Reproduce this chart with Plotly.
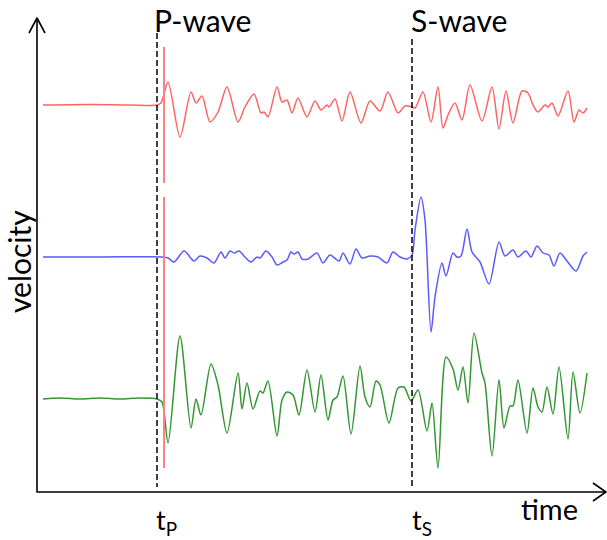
import plotly.graph_objects as go

# ---- data (time in arbitrary units from origin, velocity amplitude relative to trace baseline) ----
red_t = [6,53,93,120,124,131,143,154,159,165,173,181,190,201,208,217,224,227,231,240,245,250,255,261,270,
         278,284,290,292,298,305,313,324,333,343,351,361,368,375,378,386,394,401,406,411,418,425,433,445,455,
         462,469,476,485,491,496,501,508,511,515,521,531,537,542,546,550]
red_v = [0,0.5,0,0,2,23,-32,13,2,9,-17,-7,18,-17,-2,11,-8,-7,-12,18,3,5,-8,7,-12,
         4,-5,0,-2,6,-16,13,-18,4,-6,13,-8,-1,-2,-3,13,-17,18,-23,-10,2,-15,20,-16,18,
         -24,14,-18,14,12,0,-7,0,-2,2,-11,14,-17,-5,-8,-3]

blue_t = [6,63,127,131,137,147,157,163,170,177,184,188,193,197,202,208,214,220,223,229,235,240,246,250,254,
          257,261,265,271,280,286,293,302,306,313,319,325,333,341,350,356,363,370,375,378,384,388,394,398,405,
          409,416,420,424,430,435,443,452,462,468,476,481,489,494,500,506,512,517,523,530,539,546,550]
blue_v = [0,0,0,-1,-5,6,-4,1,-1,-6,5,-1,6,4,6,0,-5,0,-1,6,0,-8,-5,-3,5,
          3,5,-2,-2,4,-6,2,-4,4,-7,8,-1,1,0,-6,5,0,-2,2,27,60,37,-75,-40,-6,
          -19,4,0,1,28,5,-5,-27,15,1,7,0,6,0,11,4,2,-9,4,-4,-14,1,5]

green_t = [6,23,43,63,83,103,120,125,131,143,154,159,164,174,181,190,201,205,210,216,223,226,231,240,245,
           250,256,262,270,278,284,291,296,300,306,314,323,328,333,339,343,352,361,367,374,381,390,395,401,409,
           416,421,426,431,437,445,448,455,462,467,473,476,481,490,496,501,505,510,516,522,531,536,543,550]
green_v = [0,1,0,1,0,1,0,-3,-44,63,-29,0,-16,35,14,-34,26,-10,16,-10,8,6,18,-37,-1,
           7,4,-16,29,-13,24,-21,-1,2,23,-35,33,2,-8,18,14,-24,11,12,-2,9,-32,-4,-69,42,
           30,9,32,-4,66,26,16,-57,19,-29,-7,-7,19,-34,11,-8,-13,12,-15,32,-40,27,-14,26]

baselines = {"red": 387, "blue": 235, "green": 93}
t_P = 120
t_S = 375
t_red_marker = 127
time_max = 569
vel_max = 474

FONT = "Lato, 'Open Sans', sans-serif"

fig = go.Figure()

colors = {"red": "rgb(255,100,100)", "blue": "rgb(90,90,255)", "green": "rgb(50,150,50)"}
for name, tt, vv in [("red", red_t, red_v), ("blue", blue_t, blue_v), ("green", green_t, green_v)]:
    fig.add_trace(go.Scatter(
        x=tt, y=[baselines[name] + v for v in vv], mode="lines",
        line=dict(color=colors[name], width=1.5, shape="spline", smoothing=0.8),
        hoverinfo="skip"))

# red vertical marker (with small gap)
fig.add_trace(go.Scatter(x=[t_red_marker, t_red_marker, None, t_red_marker, t_red_marker],
                         y=[445, 309, None, 295, 24], mode="lines",
                         line=dict(color="rgb(255,130,130)", width=2), hoverinfo="skip"))

# dashed arrival lines
fig.add_trace(go.Scatter(x=[t_P, t_P], y=[459, 5], mode="lines",
                         line=dict(color="black", width=1.5, dash="6px,3px"), hoverinfo="skip"))
fig.add_trace(go.Scatter(x=[t_S, t_S], y=[453, 5], mode="lines",
                         line=dict(color="black", width=1.5, dash="6px,3px"), hoverinfo="skip"))

# axes with open arrowheads
fig.add_trace(go.Scatter(x=[time_max, 0, 0], y=[0, 0, vel_max], mode="lines",
                         line=dict(color="black", width=1.6), hoverinfo="skip"))
fig.add_trace(go.Scatter(x=[-8, 0, 8], y=[vel_max - 15, vel_max, vel_max - 15], mode="lines",
                         line=dict(color="black", width=1.6), hoverinfo="skip"))
fig.add_trace(go.Scatter(x=[time_max - 13, time_max, time_max - 13], y=[9, 0, -9], mode="lines",
                         line=dict(color="black", width=1.6), hoverinfo="skip"))

annotations = [
    dict(x=t_P - 5, y=472, text="P-wave", xanchor="left", yanchor="middle", font=dict(size=30)),
    dict(x=t_S - 3, y=472, text="S-wave", xanchor="left", yanchor="middle", font=dict(size=30)),
    dict(x=-18, y=230, text="velocity", textangle=-90, xanchor="center", yanchor="middle", font=dict(size=30)),
    dict(x=482, y=-16, text="time", xanchor="left", yanchor="middle", font=dict(size=29)),
    dict(x=t_P - 3, y=-29, text="t<sub>P</sub>", xanchor="left", yanchor="middle", font=dict(size=27)),
    dict(x=t_S - 2, y=-29, text="t<sub>S</sub>", xanchor="left", yanchor="middle", font=dict(size=27)),
]
for a in annotations:
    a.update(xref="x", yref="y", showarrow=False)
    a["font"].update(family=FONT, color="black")

fig.update_layout(
    width=607, height=540, margin=dict(l=0, r=0, t=0, b=0),
    paper_bgcolor="white", plot_bgcolor="white", showlegend=False,
    xaxis=dict(range=[-37, 570], visible=False, fixedrange=True),
    yaxis=dict(range=[-48, 492], visible=False, fixedrange=True),
    annotations=annotations,
)

fig.write_html("out.html", config={"displayModeBar": False},
               post_script="document.body.style.margin='0';document.body.style.overflow='hidden';")
